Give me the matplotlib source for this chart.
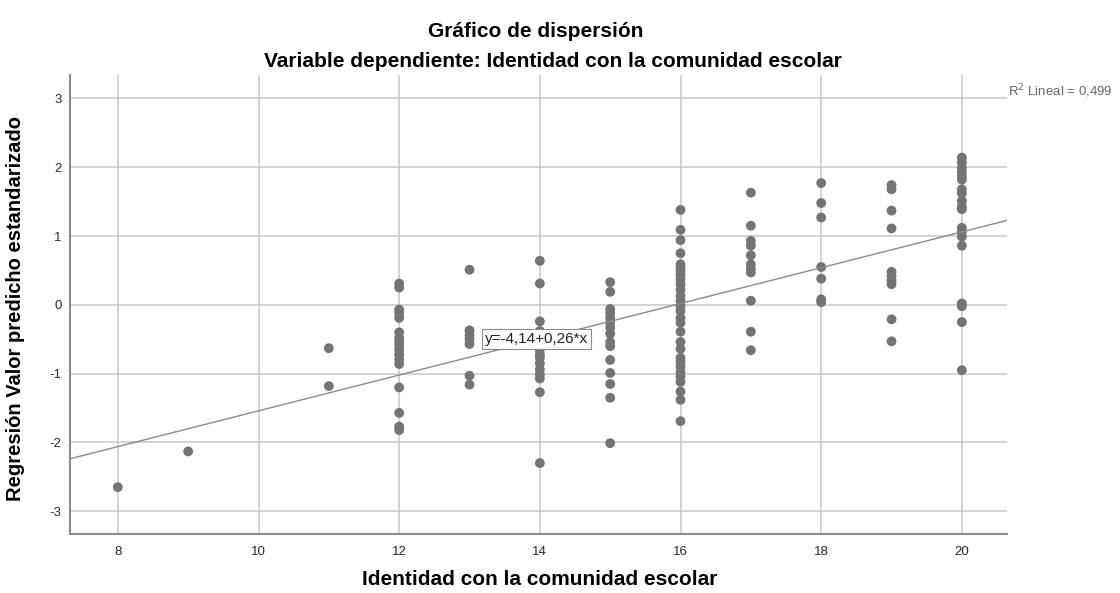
import numpy as np
import matplotlib.pyplot as plt

plt.rcParams['font.family'] = ['Liberation Sans', 'DejaVu Sans']
plt.rcParams['axes.unicode_minus'] = False

# Valores predichos estandarizados agrupados por puntaje de identidad
x_8 = [-2.65]
x_9 = [-2.13]
x_11 = [-0.63, -1.18]
x_12 = [0.31, 0.25, -0.07, -0.12, -0.19, -0.40, -0.48, -0.53, -0.59, -0.65,
        -0.72, -0.79, -0.86, -1.20, -1.57, -1.77, -1.82]
x_13 = [0.51, -0.37, -0.44, -0.50, -0.57, -1.03, -1.16]
x_14 = [0.64, 0.31, -0.24, -0.38, -0.50, -0.65, -0.72, -0.77, -0.85, -0.94,
        -1.01, -1.07, -1.27, -2.30]
x_15 = [0.33, 0.19, -0.06, -0.12, -0.19, -0.26, -0.33, -0.42, -0.54, -0.60,
        -0.80, -0.99, -1.15, -1.35, -2.01]
x_16 = [1.38, 1.09, 0.94, 0.75, 0.59, 0.54, 0.49, 0.43, 0.37, 0.30, 0.22,
        0.13, 0.06, -0.02, -0.09, -0.19, -0.26, -0.39, -0.54, -0.64, -0.77,
        -0.83, -0.90, -0.98, -1.04, -1.12, -1.26, -1.38, -1.69]
x_17 = [1.63, 1.15, 0.93, 0.86, 0.72, 0.59, 0.52, 0.47, 0.06, -0.39, -0.66]
x_18 = [1.77, 1.48, 1.27, 0.55, 0.38, 0.08, 0.04]
x_19 = [1.74, 1.68, 1.37, 1.11, 0.48, 0.42, 0.35, 0.30, -0.21, -0.53]
x_20 = [2.14, 2.07, 1.99, 1.93, 1.87, 1.82, 1.68, 1.62, 1.51, 1.43, 1.39,
        1.12, 1.06, 0.99, 0.86, 0.02, -0.02, -0.25, -0.95]

grupos = {8: x_8, 9: x_9, 11: x_11, 12: x_12, 13: x_13, 14: x_14, 15: x_15,
          16: x_16, 17: x_17, 18: x_18, 19: x_19, 20: x_20}

# Ajuste lineal reportado
b0, b1 = -4.14, 0.26
r2 = 0.499

xs = np.concatenate([[k] * len(v) for k, v in grupos.items()])
ys = np.concatenate([v for v in grupos.values()])

fig = plt.figure(figsize=(11.2, 5.93), dpi=100)
ax = fig.add_axes([0.0625, 0.0995, 0.8365, 0.774])

xlim = (7.32, 20.64)
ax.set_xlim(*xlim)
ax.set_ylim(-3.33, 3.34)
ax.set_xticks([8, 10, 12, 14, 16, 18, 20])
ax.set_yticks([-3, -2, -1, 0, 1, 2, 3])
ax.grid(True, color='#c8c8c8', linewidth=1.1)
ax.set_axisbelow(True)
ax.tick_params(length=0, labelsize=9.5, colors='#2a2a2a')
ax.tick_params(axis='x', pad=9)
ax.tick_params(axis='y', pad=6)
for s in ['top', 'right']:
    ax.spines[s].set_visible(False)
for s in ['left', 'bottom']:
    ax.spines[s].set_color('#8c8c8c')
    ax.spines[s].set_linewidth(1.5)

ax.scatter(xs, ys, s=50, color='#747474', edgecolors='none', zorder=3)

lx = np.array(xlim)
ax.plot(lx, b0 + b1 * lx, color='#8a8a8a', linewidth=1.0, zorder=4)

ax.text(13.22, -0.49, 'y=-4,14+0,26*x', fontsize=11, va='center', ha='left',
        color='#222222', zorder=5,
        bbox=dict(boxstyle='square,pad=0.2', fc='white', ec='#8c8c8c', lw=0.8))

fig.text(0.9, 0.847, 'R$^2$ Lineal = %s' % str(r2).replace('.', ','),
         fontsize=9.5, color='#666666', ha='left', va='center')

fig.text(0.4786, 0.937, 'Gráfico de dispersión', fontsize=15, fontweight='bold',
         ha='center', va='baseline')
fig.text(0.494, 0.887, 'Variable dependiente: Identidad con la comunidad escolar',
         fontsize=15, fontweight='bold', ha='center', va='baseline')
fig.text(0.482, 0.013, 'Identidad con la comunidad escolar', fontsize=15,
         fontweight='bold', ha='center', va='baseline')
fig.text(0.0134, 0.48, 'Regresión Valor predicho estandarizado', fontsize=14.5,
         fontweight='bold', rotation=90, ha='center', va='center')

fig.savefig('out.png', dpi=100)
